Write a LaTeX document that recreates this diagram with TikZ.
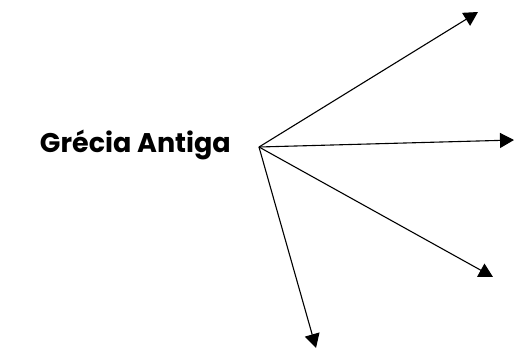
\documentclass[tikz,border=0pt]{standalone}
\usepackage{fontspec}
\setmainfont{Poppins}
\usetikzlibrary{arrows.meta}
\begin{document}
\begin{tikzpicture}[x=1pt,y=-1pt,
  spoke/.style={line width=1.1pt,-{Triangle[length=14pt,width=15pt]}},
  label/.style={inner sep=0pt,anchor=base east,font=\fontsize{27}{32}\selectfont\bfseries}]
  \useasboundingbox (0,0) rectangle (515,349);
  \node[label] (title) at (231,152) {Grécia Antiga};
  \coordinate (hub) at (259,147);
  \coordinate (t1) at (478,12);
  \coordinate (t2) at (514,140);
  \coordinate (t3) at (493,277);
  \coordinate (t4) at (316,348);
  \draw[spoke] (hub) -- (t1);
  \draw[spoke] (hub) -- (t2);
  \draw[spoke] (hub) -- (t3);
  \draw[spoke] (hub) -- (t4);
\end{tikzpicture}
\end{document}
